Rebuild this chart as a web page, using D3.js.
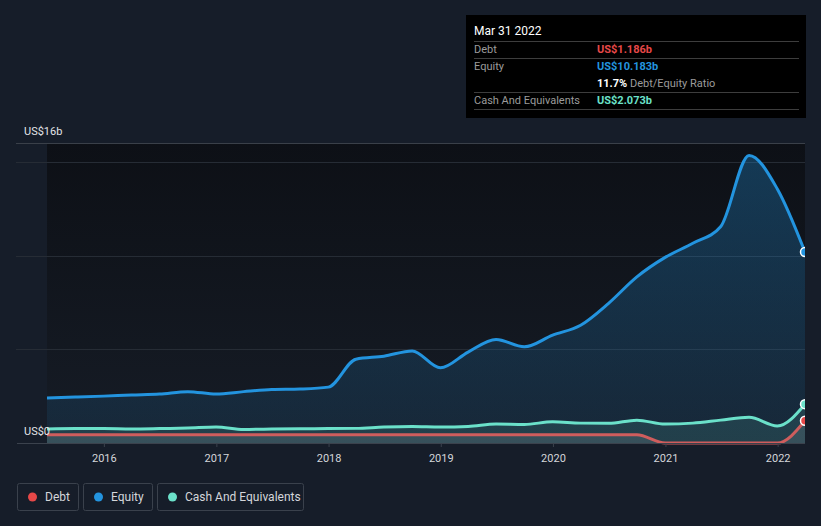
<!DOCTYPE html>
<html>
<head>
<meta charset="utf-8">
<script src="https://cdn.jsdelivr.net/npm/d3@7"></script>
<style>
  html, body { margin: 0; padding: 0; background: #161d29; }
  svg { display: block; font-family: Roboto, "Noto Sans", sans-serif; }
</style>
</head>
<body>
<script>
// quarterly balance sheet points, US$ billions
const dates = [
  "2015-06-30", "2015-09-30", "2015-12-31", "2016-03-31", "2016-06-30", "2016-09-30",
  "2016-12-31", "2017-03-31", "2017-06-30", "2017-09-30", "2017-12-31", "2018-03-31",
  "2018-06-30", "2018-09-30", "2018-12-31", "2019-03-31", "2019-06-30", "2019-09-30",
  "2019-12-31", "2020-03-31", "2020-06-30", "2020-09-30", "2020-12-31", "2021-03-31",
  "2021-06-30", "2021-09-30", "2021-12-31", "2022-03-31"
];
const equity = [
  2.40, 2.45, 2.50, 2.56, 2.61, 2.74, 2.61, 2.74, 2.85, 2.88, 2.98, 4.47,
  4.63, 4.91, 4.01, 4.85, 5.52, 5.13, 5.75, 6.28, 7.45, 8.86, 9.90, 10.65,
  11.55, 15.34, 13.55, 10.183
];
const cash = [
  0.75, 0.77, 0.77, 0.75, 0.77, 0.80, 0.85, 0.72, 0.75, 0.76, 0.77, 0.78,
  0.85, 0.88, 0.85, 0.88, 1.01, 0.99, 1.13, 1.06, 1.05, 1.22, 1.01, 1.06,
  1.22, 1.37, 0.91, 2.073
];
const debt = [
  0.44, 0.44, 0.44, 0.44, 0.44, 0.44, 0.44, 0.44, 0.44, 0.44, 0.44, 0.44,
  0.44, 0.44, 0.44, 0.44, 0.44, 0.44, 0.44, 0.44, 0.44, 0.44, 0.0, 0.0,
  0.0, 0.0, 0.0, 1.186
];
const yearTicks = [2016, 2017, 2018, 2019, 2020, 2021, 2022];
const yLabels = ["US$0", "US$16b"];
const legendItems = ["Debt", "Equity", "Cash And Equivalents"];
const tipDate = "Mar 31 2022";
const tipValues = ["US$1.186b", "US$10.183b", "US$2.073b"];
const tipRatio = "11.7%";

const width = 821, height = 526;
const colors = { Debt: "#e64848", Equity: "#2394df", Cash: "#6be1ca" };

const parse = d3.timeParse("%Y-%m-%d");
const series = dates.map((d, i) => ({
  date: parse(d), equity: equity[i], cash: cash[i], debt: debt[i]
}));

const plotL = 47, plotR = 805, plotT = 143, plotB = 443;

const x = d3.scaleTime()
  .domain([series[0].date, series[series.length - 1].date])
  .range([plotL, plotR]);
const y = d3.scaleLinear().domain([0, 16]).range([plotB, plotT]);

const svg = d3.select("body").append("svg")
  .attr("width", width)
  .attr("height", height)
  .attr("viewBox", [0, 0, width, height]);

const defs = svg.append("defs");
const bgGrad = defs.append("linearGradient").attr("id", "bg")
  .attr("x1", 0).attr("y1", 0).attr("x2", 0).attr("y2", 1);
bgGrad.append("stop").attr("offset", "0%").attr("stop-color", "#0d1016");
bgGrad.append("stop").attr("offset", "100%").attr("stop-color", "#161c26");

const eqGrad = defs.append("linearGradient").attr("id", "eqfill")
  .attr("gradientUnits", "userSpaceOnUse")
  .attr("x1", 0).attr("y1", plotT).attr("x2", 0).attr("y2", plotB);
eqGrad.append("stop").attr("offset", "0%").attr("stop-color", "#2394df").attr("stop-opacity", 0.32);
eqGrad.append("stop").attr("offset", "100%").attr("stop-color", "#2394df").attr("stop-opacity", 0.1);

defs.append("clipPath").attr("id", "clip")
  .append("rect").attr("x", plotL).attr("y", 0).attr("width", plotR - plotL).attr("height", plotB + 2);

// plot background
svg.append("rect")
  .attr("x", plotL).attr("y", plotT)
  .attr("width", plotR - plotL).attr("height", plotB - plotT)
  .attr("fill", "url(#bg)");

// gridlines
svg.append("g")
  .selectAll("line")
  .data([5, 10, 15, 16])
  .join("line")
  .attr("x1", 16).attr("x2", plotR)
  .attr("y1", d => Math.round(y(d)) + 0.5).attr("y2", d => Math.round(y(d)) + 0.5)
  .attr("stroke", d => d === 16 ? "#3a4049" : "#262c35")
  .attr("stroke-width", 1);

const curve = d3.curveMonotoneX;
const plot = svg.append("g").attr("clip-path", "url(#clip)");

function area(key) {
  return d3.area().curve(curve).x(d => x(d.date)).y0(y(0)).y1(d => y(d[key]));
}
function line(key) {
  return d3.line().curve(curve).x(d => x(d.date)).y(d => y(d[key]));
}

plot.append("path").datum(series).attr("d", area("equity")).attr("fill", "url(#eqfill)");
plot.append("path").datum(series).attr("d", area("cash")).attr("fill", "#6be1ca").attr("fill-opacity", 0.13);
plot.append("path").datum(series).attr("d", area("debt")).attr("fill", "#9aa0a8").attr("fill-opacity", 0.18);

plot.append("path").datum(series).attr("d", line("equity"))
  .attr("fill", "none").attr("stroke", colors.Equity).attr("stroke-width", 3);
plot.append("path").datum(series).attr("d", line("cash"))
  .attr("fill", "none").attr("stroke", colors.Cash).attr("stroke-width", 3);
plot.append("path").datum(series).attr("d", line("debt"))
  .attr("fill", "none").attr("stroke", "#cf5d5d").attr("stroke-width", 3);

const last = series[series.length - 1];
[["equity", colors.Equity], ["cash", colors.Cash], ["debt", colors.Debt]].forEach(([k, c]) => {
  plot.append("circle")
    .attr("cx", x(last.date)).attr("cy", y(last[k])).attr("r", 4.5)
    .attr("fill", c).attr("stroke", "#ffffff").attr("stroke-width", 1.5);
});

// x axis
svg.append("line")
  .attr("x1", 17).attr("x2", plotR)
  .attr("y1", plotB + 0.5).attr("y2", plotB + 0.5)
  .attr("stroke", "#3b424d").attr("stroke-width", 1);

const xAxis = svg.append("g")
  .attr("transform", `translate(0,${plotB})`)
  .call(d3.axisBottom(x)
    .tickValues(yearTicks.map(yr => new Date(yr, 0, 1)))
    .tickFormat(d3.timeFormat("%Y"))
    .tickSize(4)
    .tickPadding(7));
xAxis.select(".domain").remove();
xAxis.selectAll(".tick line").attr("stroke", "#3b424d");
xAxis.selectAll(".tick text")
  .attr("fill", "#d4d6da").attr("font-size", 11).attr("font-family", "Roboto, sans-serif");

// y labels
svg.append("g")
  .selectAll("text")
  .data([0, 16])
  .join("text")
  .attr("x", 24)
  .attr("y", d => y(d) - 8)
  .attr("fill", "#e2e4e8")
  .attr("font-size", 11)
  .text((d, i) => yLabels[i]);

// tooltip
const tip = svg.append("g").attr("transform", "translate(466,15)");
tip.append("rect").attr("width", 340).attr("height", 103).attr("fill", "#000000");
tip.append("text").attr("x", 8).attr("y", 20).attr("fill", "#ffffff").attr("font-size", 12).text(tipDate);
tip.selectAll("line.sep")
  .data([26.5, 43.5, 77.5, 94.5])
  .join("line")
  .attr("x1", 8).attr("x2", 333)
  .attr("y1", d => d).attr("y2", d => d)
  .attr("stroke", "#3d3d3d");

const tipRows = [
  { label: "Debt", value: tipValues[0], color: colors.Debt, y: 38 },
  { label: "Equity", value: tipValues[1], color: colors.Equity, y: 55 },
  { label: "Cash And Equivalents", value: tipValues[2], color: colors.Cash, y: 89 }
];
tipRows.forEach(r => {
  tip.append("text").attr("x", 8).attr("y", r.y).attr("fill", "#9b9b9b").attr("font-size", 11).text(r.label);
  tip.append("text").attr("x", 131).attr("y", r.y).attr("fill", r.color)
    .attr("font-size", 11).attr("font-weight", "bold").text(r.value);
});
const ratio = tip.append("text").attr("x", 131).attr("y", 72).attr("font-size", 11);
ratio.append("tspan").attr("fill", "#ffffff").attr("font-weight", "bold").text(tipRatio);
ratio.append("tspan").attr("fill", "#9b9b9b").text(" Debt/Equity Ratio");

// legend
const legendColors = [colors.Debt, colors.Equity, colors.Cash];
const legendWidths = [61, 69, 146];
let lx = 17;
legendItems.forEach((name, i) => {
  const g = svg.append("g").attr("transform", `translate(${lx},483)`);
  g.append("rect").attr("x", 0.5).attr("y", 0.5)
    .attr("width", legendWidths[i]).attr("height", 27).attr("rx", 2)
    .attr("fill", "none").attr("stroke", "#3a414c");
  g.append("circle").attr("cx", 15.5).attr("cy", 14).attr("r", 4.5).attr("fill", legendColors[i]);
  g.append("text").attr("x", 28).attr("y", 18).attr("fill", "#d4d6da").attr("font-size", 12).text(name);
  lx += legendWidths[i] + 5;
});
</script>
</body>
</html>
